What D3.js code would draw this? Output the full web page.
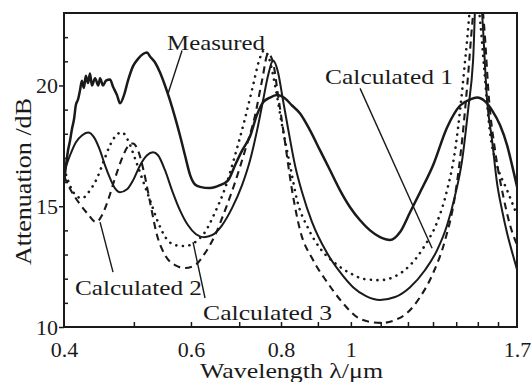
<!DOCTYPE html>
<html>
<head>
<meta charset="utf-8">
<script src="https://cdn.jsdelivr.net/npm/d3@7"></script>
<style>
  body { margin: 0; background: #fff; }
  svg { display: block; }
  text { font-family: "Liberation Serif", "DejaVu Serif", serif; fill: #1a1a1a; }
</style>
</head>
<body>
<script>
// wavelength (um) and attenuation (dB)
var measuredWl = [0.400, 0.4026, 0.4051, 0.4077, 0.4103, 0.413, 0.4155, 0.4181, 0.421, 0.4235, 0.4262, 0.4289, 0.4319, 0.4346, 0.4373, 0.4417, 0.4463, 0.4488, 0.4531, 0.4574, 0.4633, 0.4678, 0.4738, 0.4784, 0.4845, 0.4907, 0.4987, 0.5067, 0.5148, 0.5215, 0.5265, 0.535, 0.5436, 0.5523, 0.5612, 0.5703, 0.5794, 0.5888, 0.5983, 0.6079, 0.6177, 0.6377, 0.6584, 0.6755, 0.6908, 0.7064, 0.7247, 0.7411, 0.7554, 0.7725, 0.790, 0.8104, 0.8287, 0.8502, 0.8778, 0.9063, 0.9357, 0.9661, 0.9974, 1.0298, 1.0632, 1.0978, 1.1334, 1.1702, 1.2082, 1.2474, 1.3003, 1.3597, 1.4175, 1.4635, 1.4966, 1.5352, 1.570, 1.6107, 1.6472, 1.6736, 1.7007];
var measuredDb = [16.0, 16.7, 17.3, 17.7, 18.2, 18.6, 19.2, 19.4, 19.8, 20.2, 19.9, 20.4, 20.1, 20.5, 20.0, 20.3, 20.0, 20.3, 20.0, 20.2, 20.25, 19.95, 19.6, 19.26, 19.6, 20.2, 20.8, 21.1, 21.3, 21.36, 21.2, 20.95, 20.54, 20.0, 19.38, 18.68, 17.93, 17.1, 16.3, 15.9, 15.8, 15.75, 15.87, 16.07, 16.7, 17.3, 17.9, 18.8, 19.3, 19.5, 19.6, 19.46, 19.17, 18.84, 18.14, 17.31, 16.49, 15.66, 14.96, 14.42, 14.0, 13.72, 13.6, 13.93, 14.75, 15.58, 16.7, 18.26, 19.17, 19.42, 19.5, 19.34, 18.97, 18.35, 17.52, 16.69, 15.79];

var calc1Wl = [0.400, 0.4077, 0.4155, 0.4235, 0.4319, 0.4403, 0.4488, 0.456, 0.4633, 0.4708, 0.4784, 0.4892, 0.4987, 0.5099, 0.5215, 0.5316, 0.5401, 0.5523, 0.5648, 0.5794, 0.5945, 0.6098, 0.6256, 0.6418, 0.6626, 0.6841, 0.7064, 0.7247, 0.7411, 0.7554, 0.7676, 0.7799, 0.7925, 0.8052, 0.8182, 0.8367, 0.8557, 0.8834, 0.9268, 0.9661, 1.007, 1.0498, 1.0978, 1.1517, 1.2082, 1.2675, 1.3171, 1.3597, 1.395, 1.4266, 1.454, 1.4775, 1.497, 1.5207, 1.5451, 1.570, 1.5952, 1.6209, 1.6472, 1.6736, 1.7007];
var calc1Db = [16.4, 17.1, 17.65, 17.93, 18.05, 17.85, 17.31, 16.69, 16.16, 15.74, 15.58, 15.7, 16.07, 16.69, 17.11, 17.23, 17.11, 16.49, 15.66, 14.83, 14.21, 13.84, 13.72, 13.8, 14.21, 14.92, 15.87, 16.9, 18.14, 19.38, 20.41, 21.03, 20.54, 19.38, 18.22, 16.69, 15.58, 14.34, 13.06, 12.27, 11.65, 11.28, 11.12, 11.24, 11.65, 12.36, 13.18, 14.21, 15.45, 16.9, 18.97, 21.03, 25.0, 22.97, 19.38, 17.73, 15.95, 14.83, 13.88, 13.1, 12.36];

var calc2Wl = [0.400, 0.4103, 0.421, 0.4319, 0.4431, 0.4516, 0.4604, 0.4708, 0.4814, 0.4907, 0.4987, 0.5067, 0.5165, 0.5265, 0.5384, 0.5523, 0.5703, 0.5888, 0.6079, 0.6276, 0.648, 0.669, 0.6908, 0.7132, 0.7364, 0.753, 0.7676, 0.7799, 0.7925, 0.8078, 0.8287, 0.8502, 0.8863, 0.9268, 0.9723, 1.020, 1.0632, 1.1048, 1.1517, 1.2005, 1.2474, 1.3003, 1.3512, 1.395, 1.4266, 1.454, 1.4728, 1.500, 1.5305, 1.555, 1.585, 1.6261, 1.663, 1.7007];
var calc2Db = [16.24, 15.58, 15.08, 14.67, 14.34, 14.63, 15.25, 16.16, 16.98, 17.48, 17.6, 17.31, 16.4, 15.17, 13.8, 12.98, 12.56, 12.44, 12.56, 13.06, 13.8, 14.83, 15.99, 17.31, 18.76, 20.21, 21.32, 20.95, 19.59, 17.93, 15.66, 14.01, 12.77, 11.86, 11.03, 10.41, 10.21, 10.17, 10.29, 10.62, 11.24, 12.23, 13.6, 15.45, 17.73, 20.41, 22.48, 24.5, 22.48, 19.38, 17.31, 15.45, 14.21, 13.39];

var calc3Wl = [0.400, 0.4051, 0.413, 0.4235, 0.4346, 0.4445, 0.4545, 0.4633, 0.4723, 0.4814, 0.4907, 0.5018, 0.5132, 0.5265, 0.5401, 0.5541, 0.5703, 0.5888, 0.6079, 0.6276, 0.648, 0.669, 0.6908, 0.7132, 0.7317, 0.7459, 0.7578, 0.7701, 0.785, 0.8027, 0.8234, 0.8421, 0.8722, 0.9063, 0.9508, 0.9974, 1.0464, 1.0978, 1.1517, 1.2082, 1.2675, 1.3171, 1.3597, 1.395, 1.4222, 1.445, 1.480, 1.5111, 1.5305, 1.560, 1.5952, 1.6472, 1.7007];
var calc3Db = [16.57, 16.07, 15.54, 15.33, 15.66, 16.16, 16.9, 17.52, 17.93, 18.06, 17.73, 16.98, 16.16, 15.25, 14.34, 13.68, 13.39, 13.35, 13.51, 13.93, 14.75, 15.74, 17.11, 18.64, 20.0, 21.03, 21.45, 21.12, 20.0, 18.35, 16.69, 15.25, 14.09, 13.26, 12.64, 12.23, 11.98, 11.94, 12.1, 12.56, 13.39, 14.34, 15.66, 17.31, 19.38, 21.45, 24.2, 22.69, 20.74, 18.02, 16.69, 15.66, 14.63];

var xLabelTicks = [0.4, 0.6, 0.8, 1, 1.7];
var xMinorTicks = [0.5, 0.6, 0.7, 0.8, 0.9, 1.0, 1.1, 1.2, 1.3, 1.4, 1.5, 1.6];
var yLabelTicks = [10, 15, 20];
var yMinorTicks = [11, 12, 13, 14, 16, 17, 18, 19, 21, 22];

// curve labels: text anchor and leader line, in data units
var labelNames = ["Measured", "Calculated 1", "Calculated 2", "Calculated 3"];
var labelAt = [[0.5559, 21.45], [0.9209, 20.08], [0.4143, 11.32], [0.6236, 10.29]];
var leaderFrom = [[0.5832, 21.45], [1.0298, 19.88], [0.4678, 12.27], [0.6276, 11.2]];
var leaderTo = [[0.5577, 19.67], [1.2962, 13.26], [0.4488, 14.34], [0.604, 13.51]];
var labelWidths = [98, 128, 127, 129];

var W = 531, H = 382;
var padL = 64, padR = 517, padT = 13, padB = 327;
var serif = "Liberation Serif, DejaVu Serif, serif";

var svg = d3.select("body").append("svg")
  .attr("width", W)
  .attr("height", H);

svg.append("rect").attr("width", W).attr("height", H).attr("fill", "#fff");

var x = d3.scaleLog().domain([0.4, 1.7]).range([padL, padR]);
var y = d3.scaleLinear().domain([10, 23]).range([padB, padT]);

svg.append("clipPath").attr("id", "plot")
  .append("rect")
  .attr("x", padL).attr("y", padT)
  .attr("width", padR - padL).attr("height", padB - padT);

function series(wl, db) {
  return wl.map(function(d, i) { return [d, db[i]]; });
}

var line = d3.line()
  .x(function(d) { return x(d[0]); })
  .y(function(d) { return y(d[1]); })
  .curve(d3.curveMonotoneX);

var curves = svg.append("g").attr("clip-path", "url(#plot)")
  .attr("fill", "none").attr("stroke", "#1a1a1a");

// dashed: Calculated 2
curves.append("path")
  .attr("d", line(series(calc2Wl, calc2Db)))
  .attr("stroke-width", 2.1)
  .attr("stroke-dasharray", "7,5");

// dotted: Calculated 3
curves.append("path")
  .attr("d", line(series(calc3Wl, calc3Db)))
  .attr("stroke-width", 2.6)
  .attr("stroke-linecap", "round")
  .attr("stroke-dasharray", "0.1,6.5");

// solid: Calculated 1
curves.append("path")
  .attr("d", line(series(calc1Wl, calc1Db)))
  .attr("stroke-width", 2.0);

// measured
curves.append("path")
  .attr("d", line(series(measuredWl, measuredDb)))
  .attr("stroke-width", 2.5)
  .attr("stroke-linejoin", "round");

// frame
svg.append("rect")
  .attr("x", padL).attr("y", padT)
  .attr("width", padR - padL).attr("height", padB - padT)
  .attr("fill", "none").attr("stroke", "#1a1a1a").attr("stroke-width", 2);

// axes
var gx = svg.append("g").attr("transform", "translate(0," + padB + ")")
  .call(d3.axisBottom(x).tickValues(xMinorTicks).tickSize(-5).tickFormat(""));
var gxl = svg.append("g").attr("transform", "translate(0," + padB + ")")
  .call(d3.axisBottom(x).tickValues(xLabelTicks).tickSize(0).tickPadding(14)
    .tickFormat(function(d) { return d === 1 ? "1" : d3.format(".1f")(d); }));
var gy = svg.append("g").attr("transform", "translate(" + padL + ",0)")
  .call(d3.axisLeft(y).tickValues(yMinorTicks).tickSize(-4).tickFormat(""));
var gyl = svg.append("g").attr("transform", "translate(" + padL + ",0)")
  .call(d3.axisLeft(y).tickValues(yLabelTicks).tickSize(5).tickPadding(1).tickFormat(d3.format("d")));

[gx, gxl, gy, gyl].forEach(function(g) {
  g.select(".domain").remove();
  g.selectAll("line").attr("stroke", "#1a1a1a").attr("stroke-width", 1.5);
  g.selectAll("text").attr("font-size", 22).attr("fill", "#1a1a1a")
    .attr("font-family", serif);
});

// axis titles
svg.append("text")
  .attr("x", 200).attr("y", 378)
  .attr("font-family", serif)
  .attr("font-size", 21)
  .attr("textLength", 183).attr("lengthAdjust", "spacingAndGlyphs")
  .text("Wavelength λ/μm");

svg.append("text")
  .attr("transform", "translate(31,265) rotate(-90)")
  .attr("font-family", serif)
  .attr("font-size", 23)
  .attr("textLength", 167).attr("lengthAdjust", "spacingAndGlyphs")
  .text("Attenuation /dB");

// curve labels and leaders
var notes = svg.append("g");
labelNames.forEach(function(name, i) {
  notes.append("line")
    .attr("x1", x(leaderFrom[i][0])).attr("y1", y(leaderFrom[i][1]))
    .attr("x2", x(leaderTo[i][0])).attr("y2", y(leaderTo[i][1]))
    .attr("stroke", "#1a1a1a").attr("stroke-width", 1.4);
  notes.append("text")
    .attr("x", x(labelAt[i][0])).attr("y", y(labelAt[i][1]))
    .attr("font-family", serif)
    .attr("font-size", 22)
    .attr("textLength", labelWidths[i]).attr("lengthAdjust", "spacingAndGlyphs")
    .text(name);
});
</script>
</body>
</html>
